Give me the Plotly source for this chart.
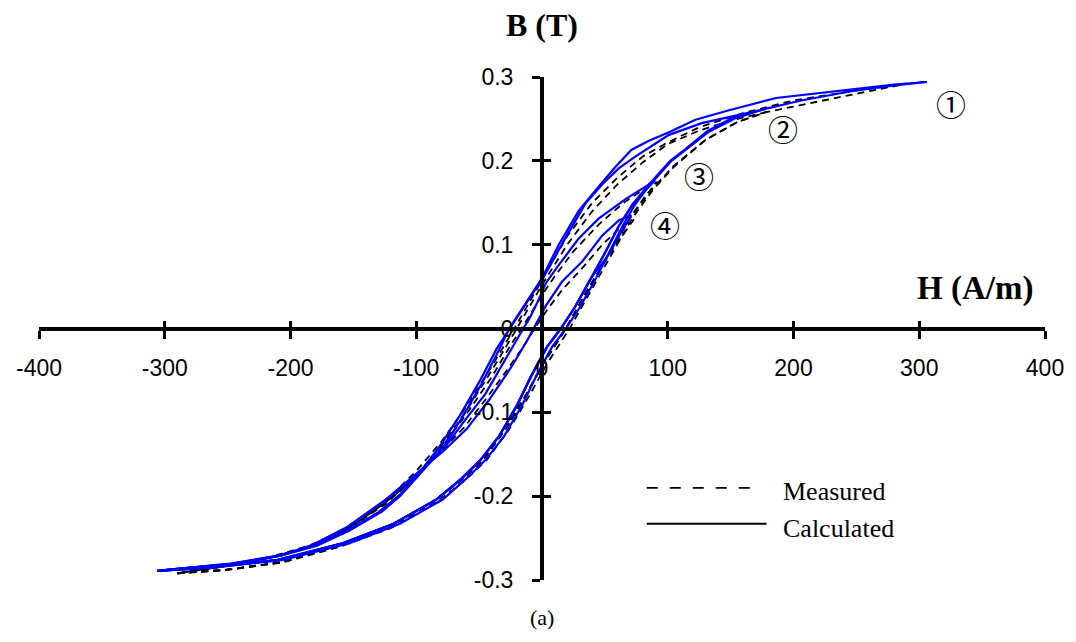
import plotly.graph_objects as go

# ---------------- DATA ----------------
# Calculated loops (ascending branch from negative tip, then descending branch back)
calc1_h = [-306, -260, -206, -153, -113, -79, -60, -45, -30, -16, -4, 8, 19, 30, 43, 53, 64, 74, 85, 103, 114, 132, 154, 175, 206, 246, 280, 306,
           280, 246, 186, 148, 122, 101, 85, 71, 58, 45, 29, 13, 0, -13, -26, -34, -48, -63, -79, -98, -113, -127, -153, -179, -206, -246, -286, -306]
calc1_b = [-0.289, -0.285, -0.276, -0.256, -0.233, -0.204, -0.179, -0.157, -0.128, -0.092, -0.055, -0.022, 0.000, 0.025, 0.060, 0.090, 0.122, 0.148, 0.170, 0.200, 0.213, 0.234, 0.251, 0.261, 0.272, 0.283, 0.290, 0.294,
           0.291, 0.285, 0.275, 0.260, 0.249, 0.234, 0.224, 0.213, 0.192, 0.169, 0.140, 0.099, 0.060, 0.030, 0.000, -0.025, -0.066, -0.105, -0.143, -0.175, -0.200, -0.218, -0.241, -0.259, -0.270, -0.280, -0.286, -0.289]

calc2_h = [-306, -262, -210, -158, -118, -84, -64, -49, -34, -20, -8, 4, 15, 26, 39, 50, 61, 72, 84, 102, 114, 132, 154, 178,
           154, 127, 101, 75, 61, 48, 35, 19, 3, -12, -24, -36, -50, -65, -82, -100, -113, -130, -156, -182, -208, -248, -286, -306]
calc2_b = [-0.289, -0.285, -0.276, -0.256, -0.233, -0.204, -0.179, -0.157, -0.128, -0.092, -0.055, -0.022, 0.000, 0.025, 0.060, 0.090, 0.122, 0.148, 0.170, 0.200, 0.214, 0.236, 0.253, 0.262,
           0.254, 0.245, 0.231, 0.206, 0.191, 0.172, 0.150, 0.109, 0.066, 0.032, 0.004, -0.024, -0.064, -0.103, -0.142, -0.177, -0.198, -0.219, -0.242, -0.260, -0.271, -0.281, -0.286, -0.289]

calc3_h = [-306, -262, -210, -158, -118, -84, -64, -49, -34, -20, -8, 4, 15, 26, 39, 50, 61, 72, 81, 90,
           82, 67, 45, 29, 13, 3, -4, -10, -18, -32, -45, -60, -74, -92, -108, -125, -155, -182, -208, -248, -286, -306]
calc3_b = [-0.289, -0.285, -0.276, -0.256, -0.233, -0.204, -0.179, -0.157, -0.128, -0.092, -0.055, -0.022, 0.000, 0.025, 0.060, 0.090, 0.122, 0.148, 0.163, 0.177,
           0.169, 0.155, 0.131, 0.107, 0.075, 0.054, 0.030, 0.012, -0.008, -0.045, -0.078, -0.107, -0.135, -0.163, -0.185, -0.205, -0.237, -0.258, -0.271, -0.281, -0.286, -0.289]

calc4_h = [-306, -262, -210, -158, -118, -84, -64, -49, -34, -20, -8, 4, 15, 26, 39, 53, 63, 71,
           61, 48, 32, 16, 3, -5, -12, -24, -42, -60, -79, -95, -110, -125, -155, -182, -208, -248, -286, -306]
calc4_b = [-0.289, -0.285, -0.276, -0.256, -0.233, -0.204, -0.179, -0.157, -0.128, -0.092, -0.055, -0.022, 0.000, 0.025, 0.060, 0.088, 0.115, 0.135,
           0.129, 0.111, 0.080, 0.056, 0.027, 0.005, -0.015, -0.045, -0.085, -0.120, -0.147, -0.167, -0.186, -0.205, -0.237, -0.258, -0.271, -0.281, -0.286, -0.289]

# Measured loops
meas1_h = [-290, -250, -206, -160, -120, -85, -62, -44, -26, -10, 4, 22, 40, 56, 72, 88, 105, 130, 155, 178, 210, 250, 290,
           250, 200, 160, 125, 100, 80, 60, 40, 20, 0, -20, -40, -60, -80, -100, -125, -155, -185, -215, -250, -290]
meas1_b = [-0.292, -0.288, -0.279, -0.260, -0.238, -0.208, -0.182, -0.157, -0.120, -0.080, -0.042, 0.000, 0.048, 0.090, 0.132, 0.165, 0.193, 0.225, 0.246, 0.258, 0.268, 0.280, 0.292,
           0.284, 0.272, 0.257, 0.240, 0.222, 0.205, 0.180, 0.150, 0.110, 0.058, 0.005, -0.045, -0.093, -0.135, -0.170, -0.207, -0.238, -0.259, -0.272, -0.283, -0.292]

meas2_h = [-290, -252, -208, -163, -123, -88, -65, -47, -29, -13, 1, 19, 37, 54, 70, 87, 104, 130, 155, 178,
           150, 125, 100, 80, 60, 40, 20, 0, -20, -40, -60, -80, -100, -125, -155, -185, -215, -250, -290]
meas2_b = [-0.292, -0.288, -0.279, -0.260, -0.238, -0.208, -0.182, -0.157, -0.120, -0.080, -0.042, 0.000, 0.048, 0.090, 0.132, 0.165, 0.193, 0.225, 0.246, 0.258,
           0.248, 0.236, 0.220, 0.198, 0.172, 0.140, 0.100, 0.052, 0.000, -0.050, -0.098, -0.140, -0.176, -0.210, -0.240, -0.260, -0.273, -0.283, -0.292]

meas3_h = [-290, -252, -208, -163, -123, -88, -65, -47, -29, -13, 1, 19, 37, 54, 70, 82, 92,
           80, 65, 45, 25, 10, 0, -10, -25, -40, -60, -80, -100, -125, -155, -185, -215, -250, -290]
meas3_b = [-0.292, -0.288, -0.279, -0.260, -0.238, -0.208, -0.182, -0.157, -0.120, -0.080, -0.042, 0.000, 0.048, 0.090, 0.132, 0.158, 0.175,
           0.165, 0.150, 0.124, 0.092, 0.062, 0.040, 0.015, -0.020, -0.058, -0.102, -0.142, -0.178, -0.208, -0.240, -0.260, -0.273, -0.283, -0.292]

meas4_h = [-290, -252, -208, -163, -123, -88, -65, -47, -29, -13, 1, 19, 37, 54, 66, 73,
           62, 48, 32, 16, 4, -5, -15, -28, -45, -62, -80, -100, -125, -155, -185, -215, -250, -290]
meas4_b = [-0.292, -0.288, -0.279, -0.260, -0.238, -0.208, -0.182, -0.157, -0.120, -0.080, -0.042, 0.000, 0.048, 0.090, 0.115, 0.130,
           0.120, 0.100, 0.072, 0.046, 0.022, 0.002, -0.022, -0.050, -0.085, -0.118, -0.146, -0.176, -0.208, -0.240, -0.260, -0.273, -0.283, -0.292]

x_tick_vals = [-400, -300, -200, -100, 0, 100, 200, 300, 400]
x_tick_text = ["-400", "-300", "-200", "-100", "0", "100", "200", "300", "400"]
y_tick_vals = [-0.3, -0.2, -0.1, 0, 0.1, 0.2, 0.3]
y_tick_text = ["-0.3", "-0.2", "-0.1", "0", "0.1", "0.2", "0.3"]
loop_labels = ["①", "②", "③", "④"]
legend_names = ["Measured", "Calculated"]

# ---------------- FIGURE ----------------
BLUE = "#0000FF"
SANS = "Liberation Sans, Arial, sans-serif"
SERIF = "Liberation Serif, Times New Roman, serif"

fig = go.Figure()

meas = [(meas1_h, meas1_b), (meas2_h, meas2_b), (meas3_h, meas3_b), (meas4_h, meas4_b)]
calc = [(calc1_h, calc1_b), (calc2_h, calc2_b), (calc3_h, calc3_b), (calc4_h, calc4_b)]

for h, b in meas:
    fig.add_trace(go.Scatter(x=h, y=b, mode="lines", showlegend=False, hoverinfo="skip",
                             line=dict(color="black", width=1.8, dash="7px,5px")))
for h, b in calc:
    fig.add_trace(go.Scatter(x=h, y=b, mode="lines", showlegend=False, hoverinfo="skip",
                             line=dict(color=BLUE, width=2.2)))

# helper trace for overlay axes (used only to draw the inward tick halves)
fig.add_trace(go.Scatter(x=[], y=[], xaxis="x2", yaxis="y2", showlegend=False))

axis_common = dict(showgrid=False, zeroline=False, tickcolor="black", tickwidth=3, ticklen=8)

fig.update_layout(
    width=1076, height=642,
    margin=dict(l=39, r=29, t=77, b=62),
    paper_bgcolor="white", plot_bgcolor="white",
    showlegend=False,
    xaxis=dict(range=[-400, 400], anchor="free", position=0.5, showline=True, linewidth=4, linecolor="black",
               ticks="outside", tickvals=x_tick_vals, ticktext=x_tick_text,
               tickfont=dict(family=SANS, size=23, color="black"), ticklabelstandoff=10, **axis_common),
    yaxis=dict(range=[-0.3, 0.3], anchor="free", position=0.5, showline=True, linewidth=4, linecolor="black",
               ticks="outside", tickvals=y_tick_vals, ticktext=y_tick_text,
               tickfont=dict(family=SANS, size=23, color="black"), ticklabelstandoff=14, **axis_common),
    xaxis2=dict(range=[-400, 400], overlaying="x", anchor="free", position=0.5, showline=False,
                ticks="inside", tickvals=x_tick_vals, showticklabels=False, **axis_common),
    yaxis2=dict(range=[-0.3, 0.3], overlaying="y", anchor="free", position=0.5, showline=False,
                ticks="inside", tickvals=y_tick_vals, showticklabels=False, **axis_common),
)

annotations = [
    dict(text="<b>B (T)</b>", xref="paper", yref="paper", x=0.5, y=1.103, xanchor="center", yanchor="middle",
         showarrow=False, font=dict(family=SERIF, size=32, color="black")),
    dict(text="<b>H (A/m)</b>", xref="paper", yref="paper", x=0.9306, y=0.5805, xanchor="center", yanchor="middle",
         showarrow=False, font=dict(family=SERIF, size=33, color="black")),
    dict(text="(a)", xref="paper", yref="paper", x=0.5, y=-0.0755, xanchor="center", yanchor="middle",
         showarrow=False, font=dict(family=SERIF, size=22, color="black")),
]
label_pos = [(325, 0.269), (192, 0.239), (125, 0.183), (98, 0.125)]
for lab, (lx, ly) in zip(loop_labels, label_pos):
    annotations.append(dict(text=lab, x=lx, y=ly, xref="x", yref="y", showarrow=False,
                            xanchor="center", yanchor="middle",
                            font=dict(family="Noto Sans CJK JP", size=30, color="black")))
# legend text
annotations.append(dict(text=legend_names[0], x=189.7, y=-0.195, xref="x", yref="y", showarrow=False,
                        xanchor="left", yanchor="middle", font=dict(family=SERIF, size=26, color="black")))
annotations.append(dict(text=legend_names[1], x=189.7, y=-0.238, xref="x", yref="y", showarrow=False,
                        xanchor="left", yanchor="middle", font=dict(family=SERIF, size=26, color="black")))

shapes = [
    dict(type="line", xref="x", yref="y", x0=83.3, x1=169.8, y0=-0.190, y1=-0.190,
         line=dict(color="black", width=1.8, dash="11px,12px")),
    dict(type="line", xref="x", yref="y", x0=83.3, x1=178.6, y0=-0.233, y1=-0.233,
         line=dict(color="black", width=2)),
]
fig.update_layout(annotations=annotations, shapes=shapes)

fig.write_html("out.html")
